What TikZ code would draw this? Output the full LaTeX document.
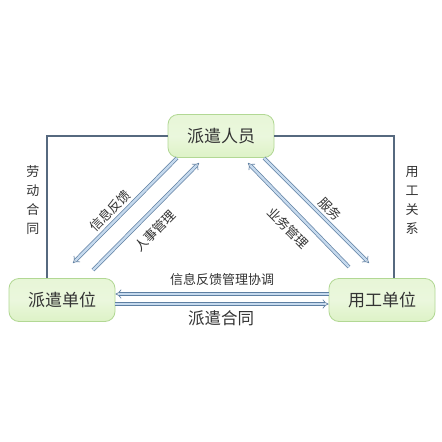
\documentclass[tikz,border=0pt]{standalone}
\usepackage{fontspec}
\setmainfont{Noto Sans CJK SC}
\usetikzlibrary{arrows.meta}

\definecolor{boxfill}{HTML}{DDF2C6}
\definecolor{boxedge}{HTML}{B2D894}
\definecolor{frameline}{HTML}{56697F}
\definecolor{arrowedge}{HTML}{5E7FA2}
\definecolor{arrowfill}{HTML}{C6DAEE}
\definecolor{txt}{HTML}{333333}

\begin{document}
\begin{tikzpicture}[x=1pt, y=-1pt,
    unit/.style={draw=boxedge, line width=0.8pt, rounded corners=10pt,
        top color=boxfill!70, bottom color=boxfill, middle color=boxfill!60,
        minimum width=106pt, minimum height=43pt, text=txt,
        font=\fontsize{17}{17}\selectfont},
    link/.style={draw=frameline, line width=1.3pt},
    flow/.style={draw=arrowedge, double=arrowfill, double distance=2.4pt,
        line width=0.7pt, -{Implies[scale=1.4]}},
    lbl/.style={text=txt, font=\fontsize{13}{13}\selectfont},
    vlbl/.style={text=txt, align=center, font=\fontsize{13}{19}\selectfont}]
    % Page
    \useasboundingbox[fill=white] (0,0) rectangle (442,442);

    % Frame lines (contracts)
    \coordinate (tl) at (47,278);
    \coordinate (tr) at (394,278);

    % Units
    \node[unit] (worker) at (221,136) {派遣人员};
    \node[unit] (agency) at (62,300) {派遣单位};
    \node[unit] (employer) at (382,300) {用工单位};

    \draw[link] (tl) |- (worker.west);
    \draw[link] (worker.east) -| (tr);

    % Side labels
    \node[vlbl] (labour) at (33,200) {劳\\动\\合\\同};
    \node[vlbl] (employ) at (412,200) {用\\工\\关\\系};

    % Diagonal arrows, left
    \coordinate (a1s) at (177,158);
    \coordinate (a1e) at (73,263);
    \coordinate (a2s) at (93,270);
    \coordinate (a2e) at (199,163);
    \draw[flow] (a1s) -- (a1e);
    \draw[flow] (a2s) -- (a2e);
    \node[lbl, rotate=45] (feedback) at (110,211) {信息反馈};
    \node[lbl, rotate=45] (personnel) at (155,231) {人事管理};

    % Diagonal arrows, right
    \coordinate (a3s) at (349,267);
    \coordinate (a3e) at (248,163);
    \coordinate (a4s) at (264,158);
    \coordinate (a4e) at (369,263);
    \draw[flow] (a3s) -- (a3e);
    \draw[flow] (a4s) -- (a4e);
    \node[lbl, rotate=-45] (business) at (288,228) {业务管理};
    \node[lbl, rotate=-45] (service) at (330,209) {服务};

    % Horizontal arrows
    \draw[flow] (employer.west |- 0,294) -- (agency.east |- 0,294);
    \draw[flow] (agency.east |- 0,304) -- (employer.west |- 0,304);
    \node[lbl] (coord) at (222,280) {信息反馈管理协调};
    \node[text=txt, font=\fontsize{16.5}{16.5}\selectfont] (contract) at (221,318) {派遣合同};
\end{tikzpicture}
\end{document}
